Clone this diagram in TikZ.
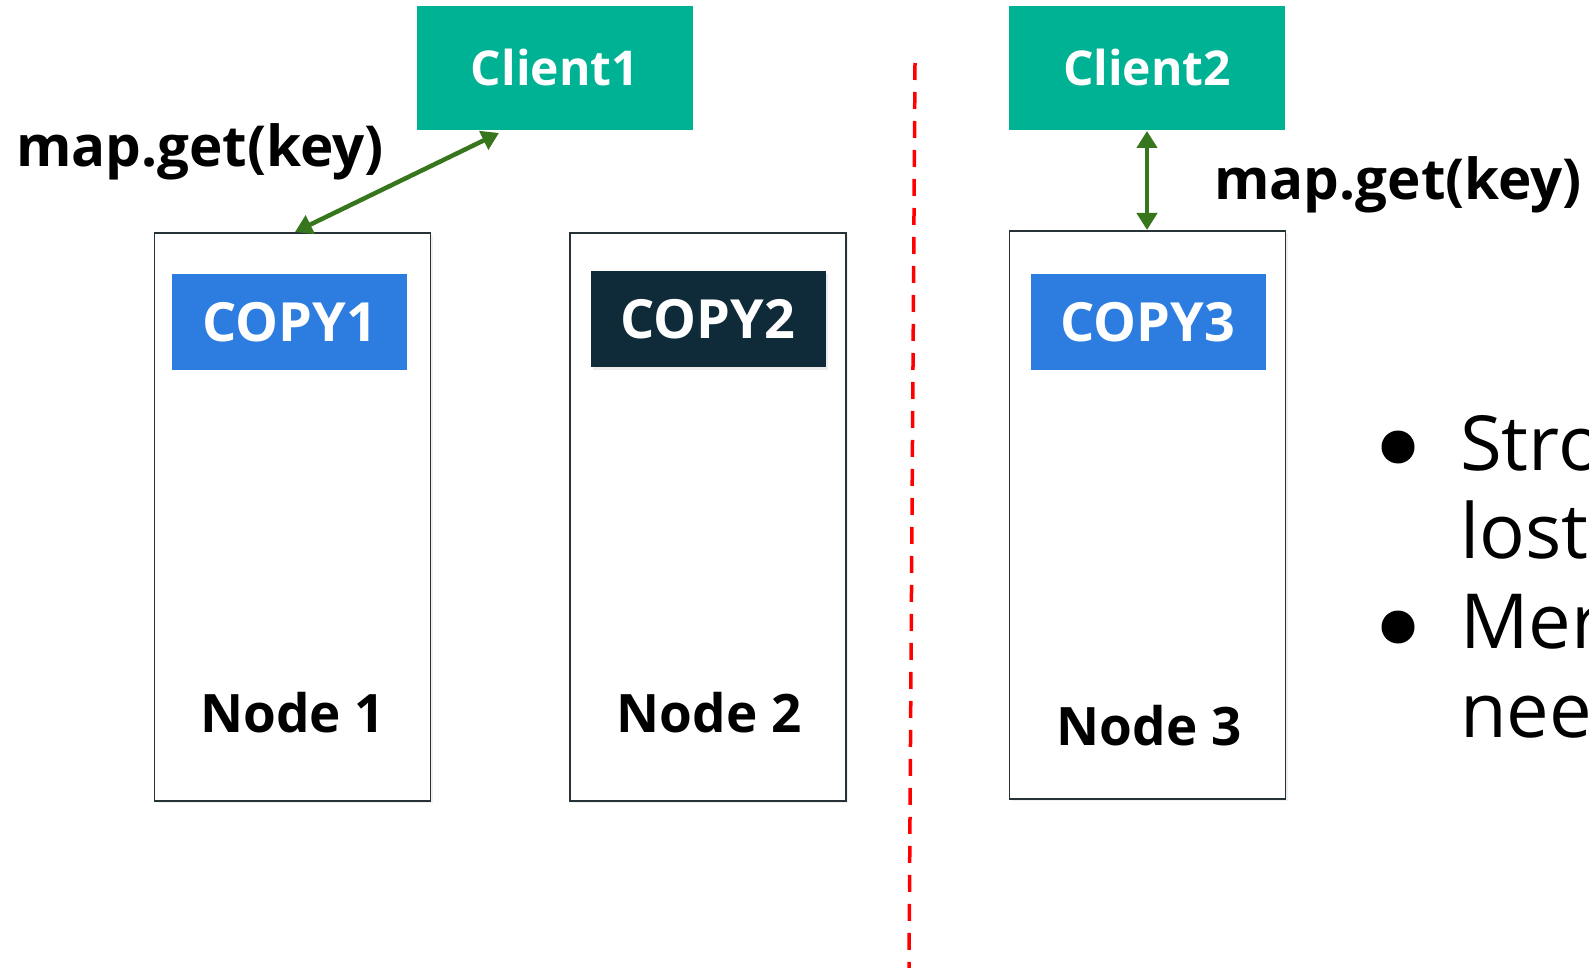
\documentclass[tikz,border=0pt]{standalone}
\usepackage{fontspec}
\setmainfont{Open Sans}
\usetikzlibrary{arrows.meta,shadows}
\definecolor{teal}{HTML}{00B294}
\definecolor{copyblue}{HTML}{2D7DE0}
\definecolor{navy}{HTML}{0F2A38}
\definecolor{boxline}{HTML}{263238}
\definecolor{arrowgreen}{HTML}{38761D}
\begin{document}
\begin{tikzpicture}[x=1pt,y=-1pt,
  client/.style={fill=teal,draw=none,minimum width=276pt,minimum height=124pt,inner sep=0pt,text=white,font=\fontsize{48}{56}\selectfont\bfseries},
  nodebox/.style={draw=boxline,line width=1.4pt,fill=white,minimum width=276pt,minimum height=568pt,inner sep=0pt,drop shadow={opacity=0.12,shadow xshift=2pt,shadow yshift=-2pt}},
  copybox/.style={minimum width=235pt,minimum height=96pt,inner sep=0pt,text=white,font=\fontsize{54}{64}\selectfont\bfseries},
  nodelabel/.style={anchor=base,inner sep=0pt,font=\fontsize{53}{62}\selectfont\bfseries},
  maplabel/.style={anchor=base west,inner sep=0pt,font=\fontsize{56.5}{66}\selectfont\bfseries},
  link/.style={draw=arrowgreen,line width=4.5pt,{Triangle[length=17pt,width=20pt]}-{Triangle[length=17pt,width=20pt]}},
  bullettext/.style={anchor=base west,inner sep=0pt,font=\fontsize{76}{88}\selectfont},
  bulletdot/.style={circle,fill=black,minimum size=33pt,inner sep=0pt}]
\useasboundingbox (0,0) rectangle (1589,968);
\begin{scope}
\clip (0,0) rectangle (1589,968);
% clients
\node[client] (c1) at (555,68) {Client1};
\node[client] (c2) at (1147,68) {Client2};
% node boxes
\node[nodebox] (n1) at (292.5,517) {};
\node[nodebox] (n2) at (708,517) {};
\node[nodebox] (n3) at (1147.5,515) {};
% copies
\node[copybox,fill=copyblue] (cp1) at (289.5,322) {COPY1};
\node[copybox,fill=navy,drop shadow={opacity=0.15,shadow xshift=2pt,shadow yshift=-3pt}] (cp2) at (708,319) {COPY2};
\node[copybox,fill=copyblue] (cp3) at (1148,322) {COPY3};
% node labels
\node[nodelabel] (l1) at (292.5,732) {Node 1};
\node[nodelabel] (l2) at (709,732) {Node 2};
\node[nodelabel] (l3) at (1149,745) {Node 3};
% map.get labels
\node[maplabel] (m1) at (16,167) {map.get(key)};
\node[maplabel] (m2) at (1214,200) {map.get(key)};
% arrows
\coordinate (a1s) at (499,133);
\coordinate (a1e) at (295,232);
\draw[link] (a1e) -- (a1s);
\coordinate (a2s) at (1147,131);
\coordinate (a2e) at (1147,230);
\draw[link] (a2e) -- (a2s);
% dashed separator
\coordinate (d1) at (915,63);
\coordinate (d2) at (909,968);
\draw[red,line width=3.5pt,dash pattern=on 17pt off 12pt] (d1) -- (d2);
% bullets
\node[bulletdot] (b1) at (1398,447) {};
\node[bulletdot] (b2) at (1398,627) {};
\node[bullettext] (t1) at (1460,470) {Stro};
\node[bullettext] (t2) at (1460,558) {lost};
\node[bullettext] (t3) at (1460,648) {Mer};
\node[bullettext] (t4) at (1460,737) {nee};
\end{scope}
\end{tikzpicture}
\end{document}
